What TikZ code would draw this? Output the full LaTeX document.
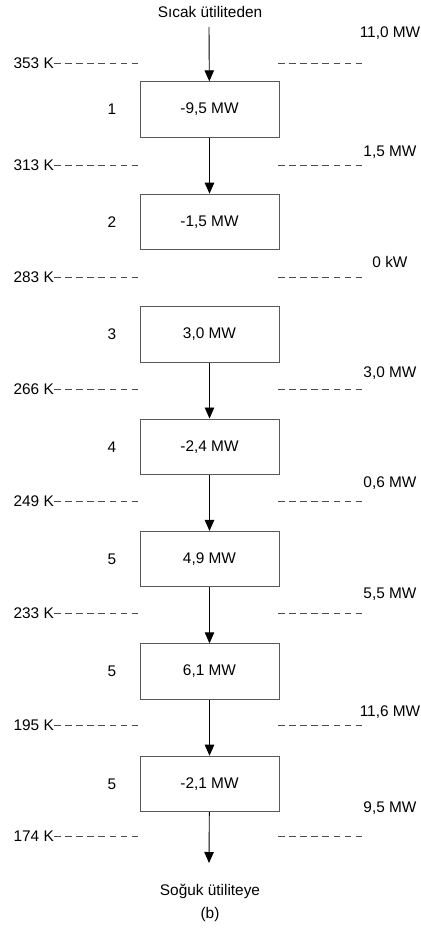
\documentclass[tikz,border=0pt]{standalone}
\usepackage{fontspec}
\setmainfont{Liberation Sans}
\usepackage{tikz}
\usetikzlibrary{arrows.meta, positioning}
\newcommand{\lbl}{\fontsize{15.4bp}{18bp}\selectfont}
\tikzset{
  % Cascade styles
  stage/.style={rectangle, minimum width=139bp, minimum height=55.5bp, inner sep=0pt, text centered, draw=black!65, line width=0.9bp, font=\lbl},
  txt/.style={inner sep=0pt, font=\lbl},
  arrow/.style={-{Triangle[length=11bp, width=9.5bp]}, line width=0.9bp},
  level/.style={dash pattern=on 6.5bp off 4.6bp, line width=0.9bp, draw=black!70},
}
\begin{document}
\begin{tikzpicture}[x=1bp, y=-1bp, node distance=56bp]
    \useasboundingbox (0,0) rectangle (420,938);

    % Utilities
    \node[txt] (hot) at (210,12) {Sıcak ütiliteden};
    \coordinate (hotin) at (209,27);
    \coordinate (coldout) at (209,863);
    \node[txt] (cold) at (210,891) {Soğuk ütiliteye};
    \node[txt] (caption) at (210,915) {(b)};

    % Intervals
    \node[stage] (b1) at (209.5,109.5) {-9,5 MW};
    \node[stage, below=of b1] (b2) {-1,5 MW};
    \node[stage, below=of b2] (b3) {3,0 MW};
    \node[stage, below=of b3] (b4) {-2,4 MW};
    \node[stage, below=of b4] (b5) {4,9 MW};
    \node[stage, below=of b5] (b6) {6,1 MW};
    \node[stage, below=of b6] (b7) {-2,1 MW};

    % Interval numbers
    \foreach \i/\n in {1/1, 2/2, 3/3, 4/4, 5/5, 6/5, 7/5}
      \node[txt] (n\i) at (112,0 |- b\i) {\n};

    % Temperature levels and cascaded heat
    \foreach \i/\y/\t/\q/\qy in {1/63/353 K/{11,0 MW}/33, 2/165/313 K/{1,5 MW}/152,
        3/277/283 K/0 kW/262, 4/389/266 K/{3,0 MW}/373, 5/501/249 K/{0,6 MW}/483,
        6/613/233 K/{5,5 MW}/594, 7/725/195 K/{11,6 MW}/712, 8/836/174 K/{9,5 MW}/808} {
      \node[txt, anchor=east] (t\i) at (54,\y) {\t};
      \node[txt] (q\i) at (390,\qy) {\q};
      \draw[level] (t\i.east) -- (140,\y);
      \draw[level] (278,\y) -- (363,\y);
    }

    % Arrows
    \draw[arrow] (hotin) -- (b1);
    \draw[arrow] (b1) -- (b2);
    \draw[arrow] (b3) -- (b4);
    \draw[arrow] (b4) -- (b5);
    \draw[arrow] (b5) -- (b6);
    \draw[arrow] (b6) -- (b7);
    \draw[arrow] (b7) -- (coldout);
\end{tikzpicture}
\end{document}
